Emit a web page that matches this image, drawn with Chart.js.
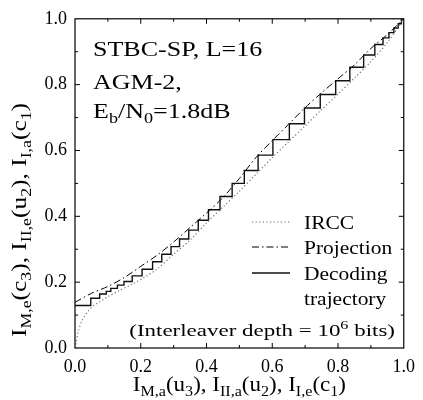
<!DOCTYPE html>
<html>
<head>
<meta charset="utf-8">
<script src="https://cdn.jsdelivr.net/npm/chart.js@4/dist/chart.umd.min.js"></script>
<style>
  html, body { margin: 0; padding: 0; background: #fff; }
  canvas { display: block; }
</style>
</head>
<body>
<canvas id="exitChart" width="423" height="400"></canvas>
<script>
// EXIT chart values
const ircc_x = [0, 0.003, 0.01, 0.02, 0.035, 0.055, 0.08, 0.1, 0.13, 0.17, 0.21, 0.25, 0.3, 0.35, 0.4, 0.45, 0.5, 0.55, 0.6, 0.65, 0.7, 0.75, 0.8, 0.85, 0.9, 0.95, 1.0]
const ircc_y = [0, 0.015, 0.05, 0.08, 0.106, 0.127, 0.143, 0.156, 0.172, 0.192, 0.214, 0.24, 0.285, 0.328, 0.38, 0.428, 0.476, 0.527, 0.578, 0.627, 0.675, 0.724, 0.771, 0.82, 0.87, 0.928, 1.0]

const projection_x = [0, 0.05, 0.1, 0.15, 0.2, 0.25, 0.3, 0.35, 0.4, 0.45, 0.5, 0.55, 0.6, 0.65, 0.7, 0.75, 0.8, 0.85, 0.9, 0.95, 1.0]
const projection_y = [0.139, 0.166, 0.187, 0.214, 0.248, 0.282, 0.322, 0.366, 0.41, 0.457, 0.515, 0.578, 0.63, 0.68, 0.73, 0.775, 0.818, 0.86, 0.91, 0.952, 1.0]

// staircase: each point ends a vertical rise, the horizontal run comes first
const trajectory_x = [0, 0.048, 0.075, 0.095, 0.109, 0.129, 0.149, 0.174, 0.204, 0.236, 0.264, 0.292, 0.318, 0.346, 0.375, 0.406, 0.441, 0.478,
    0.515, 0.557, 0.602, 0.652, 0.698, 0.746, 0.793, 0.836, 0.878, 0.912, 0.937, 0.955, 0.970, 0.983, 0.993, 1.0]
const trajectory_y = [0.129, 0.151, 0.164, 0.172, 0.181, 0.191, 0.202, 0.219, 0.239, 0.262, 0.285, 0.308, 0.331, 0.358, 0.388, 0.42, 0.46, 0.50,
    0.539, 0.586, 0.633, 0.681, 0.729, 0.770, 0.812, 0.853, 0.890, 0.922, 0.942, 0.958, 0.972, 0.985, 1.0, 1.0]

const tick_values = [0, 0.2, 0.4, 0.6, 0.8, 1.0]
const legend_labels = ['IRCC', 'Projection', 'Decoding', 'trajectory']

const annotation_lines = [
    [['STBC-SP, L=16', 'n']],
    [['AGM-2,', 'n']],
    [['E', 'n'], ['b', 'sub'], ['/N', 'n'], ['0', 'sub'], ['=1.8dB', 'n']]
]
const interleaver_note = [['(Interleaver depth = 10', 'n'], ['6', 'sup'], [' bits)', 'n']]
const x_title = [['I', 'n'], ['M,a', 'sub'], ['(u', 'n'], ['3', 'sub'], ['), I', 'n'], ['II,a', 'sub'], ['(u', 'n'], ['2', 'sub'], ['), I', 'n'], ['I,e', 'sub'], ['(c', 'n'], ['1', 'sub'], [')', 'n']]
const y_title = [['I', 'n'], ['M,e', 'sub'], ['(c', 'n'], ['3', 'sub'], ['), I', 'n'], ['II,e', 'sub'], ['(u', 'n'], ['2', 'sub'], ['), I', 'n'], ['I,a', 'sub'], ['(c', 'n'], ['1', 'sub'], [')', 'n']]

const SERIF = '"Liberation Serif", "Times New Roman", serif'

const toPoints = (xs, ys) => xs.map((x, i) => ({ x: x, y: ys[i] }))

// draws text with sub/superscripts, optionally stretched horizontally
const drawRich = (ctx, parts, x, y, size, align, stretch) => {
    const fontFor = (kind) => (kind === 'n' ? size : Math.round(size * 0.7)) + 'px ' + SERIF
    let width = 0
    parts.forEach(p => { ctx.font = fontFor(p[1]); width += ctx.measureText(p[0]).width })
    ctx.save()
    ctx.translate(x, y)
    ctx.scale(stretch, 1)
    let cx = align === 'center' ? -width / 2 : (align === 'right' ? -width : 0)
    ctx.textAlign = 'left'
    ctx.textBaseline = 'alphabetic'
    ctx.fillStyle = '#000'
    parts.forEach(p => {
        ctx.font = fontFor(p[1])
        let dy = p[1] === 'sub' ? size * 0.25 : (p[1] === 'sup' ? -size * 0.42 : 0)
        ctx.fillText(p[0], cx, dy)
        cx += ctx.measureText(p[0]).width
    })
    ctx.restore()
}

const framePlugin = {
    id: 'frameAndText',
    afterDatasetsDraw(chart) {
        const ctx = chart.ctx
        const area = chart.chartArea
        const xs = chart.scales.x
        const ys = chart.scales.y

        ctx.save()
        ctx.strokeStyle = '#000'
        ctx.lineWidth = 1.2
        ctx.strokeRect(area.left, area.top, area.right - area.left, area.bottom - area.top)

        // inward ticks on all four sides, minor every 0.1
        ctx.lineWidth = 1
        ctx.beginPath()
        for (let k = 1; k < 10; k++) {
            const len = k % 2 === 0 ? 5 : 3
            const px = xs.getPixelForValue(k / 10)
            const py = ys.getPixelForValue(k / 10)
            ctx.moveTo(px, area.bottom); ctx.lineTo(px, area.bottom - len)
            ctx.moveTo(px, area.top); ctx.lineTo(px, area.top + len)
            ctx.moveTo(area.left, py); ctx.lineTo(area.left + len, py)
            ctx.moveTo(area.right, py); ctx.lineTo(area.right - len, py)
        }
        ctx.stroke()

        // legend samples use the dataset styles
        const sampleY = [222, 247, 273]
        chart.data.datasets.forEach((ds, i) => {
            ctx.beginPath()
            ctx.strokeStyle = ds.borderColor
            ctx.lineWidth = ds.borderWidth
            ctx.setLineDash(ds.borderDash || [])
            ctx.moveTo(252, sampleY[i])
            ctx.lineTo(290, sampleY[i])
            ctx.stroke()
        })
        ctx.setLineDash([])
        ctx.restore()

        drawRich(ctx, [[legend_labels[0], 'n']], 304, 229, 19, 'left', 1.13)
        drawRich(ctx, [[legend_labels[1], 'n']], 304, 254, 19, 'left', 1.13)
        drawRich(ctx, [[legend_labels[2], 'n']], 304, 280, 19, 'left', 1.13)
        drawRich(ctx, [[legend_labels[3], 'n']], 304, 305, 19, 'left', 1.13)
        drawRich(ctx, interleaver_note, 395, 336, 17, 'right', 1.35)

        const baselines = [56, 89, 118]
        annotation_lines.forEach((line, i) => drawRich(ctx, line, 93, baselines[i], 20, 'left', 1.3))

        drawRich(ctx, x_title, (area.left + area.right) / 2, 391, 20, 'center', 1.15)
        ctx.save()
        ctx.translate(26, 220)
        ctx.rotate(-Math.PI / 2)
        drawRich(ctx, y_title, 0, 0, 20, 'center', 1.27)
        ctx.restore()
    }
}

const axisOptions = (fit) => ({
    type: 'linear',
    min: 0,
    max: 1,
    afterBuildTicks: (scale) => { scale.ticks = tick_values.map(v => ({ value: v })) },
    afterFit: fit,
    ticks: {
        callback: (v) => Number(v).toFixed(1),
        font: { family: SERIF, size: 18 },
        color: '#000',
        padding: 8,
        maxRotation: 0,
        autoSkip: false
    },
    grid: { display: false, drawTicks: false },
    border: { display: false }
})

const ctx = document.getElementById('exitChart').getContext('2d')
const chart = new Chart(ctx, {
    type: 'line',
    data: {
        datasets: [{
                label: legend_labels[0],
                data: toPoints(ircc_x, ircc_y),
                borderColor: '#666',
                borderWidth: 1.1,
                borderDash: [1.2, 2.4],
                pointRadius: 0,
                fill: false,
                tension: 0.3
            },
            {
                label: legend_labels[1],
                data: toPoints(projection_x, projection_y),
                borderColor: '#000',
                borderWidth: 1,
                borderDash: [7, 3, 1.5, 3],
                pointRadius: 0,
                fill: false,
                tension: 0.3
            },
            {
                label: legend_labels[2] + ' ' + legend_labels[3],
                data: toPoints(trajectory_x, trajectory_y),
                borderColor: '#111',
                borderWidth: 1.4,
                stepped: 'before',
                pointRadius: 0,
                fill: false
            }
        ]
    },
    options: {
        responsive: false,
        animation: false,
        devicePixelRatio: 1,
        layout: { padding: { left: 0, right: 13, top: 14, bottom: 0 } },
        plugins: { legend: { display: false }, tooltip: { enabled: false } },
        scales: {
            x: axisOptions((s) => { s.height = 52 }),
            y: axisOptions((s) => { s.width = 75 })
        }
    },
    plugins: [framePlugin]
})
</script>
</body>
</html>
